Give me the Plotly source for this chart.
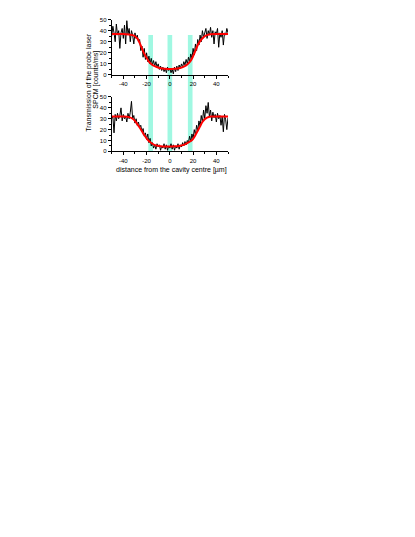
import plotly.graph_objects as go

# page body has an 8px margin; figure is sized so that it fits the 415x537 window
OFF = 8
W, H = 415 - 2 * OFF, 537 - 2 * OFF

x_data = list(range(-50, 51))
top_counts = [35, 44, 38, 30, 46, 36, 40, 24, 38, 42, 33, 45, 28, 49, 37, 42, 30, 40, 36, 28,
              38, 33, 36, 30, 32, 22, 26, 16, 24, 14, 20, 12, 17, 10, 15, 9, 13, 8, 12, 7,
              10, 5, 8, 4, 7, 3, 6, 2, 7, 4, 6, 2, 5, 1, 7, 3, 8, 4, 9, 6,
              10, 7, 12, 9, 14, 10, 16, 12, 19, 15, 24, 18, 28, 22, 32, 27, 36, 30, 40, 34,
              38, 42, 33, 40, 36, 43, 34, 40, 28, 39, 37, 42, 25, 38, 34, 40, 27, 38, 36, 42, 38]
bottom_counts = [30, 32, 17, 34, 28, 35, 30, 33, 40, 28, 34, 30, 32, 27, 35, 30, 36, 46, 30, 33,
                 26, 30, 24, 27, 22, 24, 18, 21, 14, 17, 11, 16, 8, 12, 5, 8, 3, 6, 2, 7,
                 4, 6, 1, 5, 3, 7, 2, 6, 1, 5, 3, 7, 2, 6, 1, 5, 3, 7, 2, 6,
                 4, 8, 5, 9, 6, 10, 8, 14, 9, 16, 12, 20, 15, 24, 19, 28, 23, 33, 27, 38,
                 30, 42, 35, 45, 32, 38, 28, 36, 31, 34, 27, 35, 30, 33, 24, 32, 18, 34, 29, 20, 31]

x_fit = [-50, -45, -40, -35, -32, -30, -28, -26, -24, -22, -20, -18, -15, -12, -8, -4, 0,
         4, 8, 12, 15, 18, 20, 22, 24, 26, 28, 30, 32, 35, 40, 45, 50]
top_fit = [37, 37, 37, 36.5, 36, 35, 33, 29, 24, 19, 15.5, 12, 9, 7.5, 6, 5.5, 5.3,
           5.5, 6, 7.5, 9.5, 13, 17, 22, 27, 30.5, 33, 35, 36, 36.8, 37, 37, 37]
bottom_fit = [32, 32, 32, 31.5, 30, 28, 25, 22, 18.5, 15, 12, 9.5, 7, 5.5, 4.8, 4.5, 4.4,
              4.6, 5, 6, 7.5, 9.5, 11.5, 15, 19, 23, 27, 29.5, 31, 32, 32, 32, 32]

band_centres = [-16.5, 0, 17.5]
band_width = 4
band_top = 36

x_ticks = [-40, -20, 0, 20, 40]
x_labels = ["-40", "-20", "0", "20", "40"]
y_ticks = [0, 10, 20, 30, 40, 50]


def px(xr):
    return (xr - OFF) / W


def py(yr):
    return 1 - (yr - OFF) / H


xdom = [px(111.7), px(228)]
top_dom = [py(72.7), py(16.7)]
bot_dom = [py(150), py(95)]

font = "Liberation Sans, Arial, sans-serif"

fig = go.Figure()
fig.add_trace(go.Scatter(x=x_data, y=top_counts, mode="lines", line=dict(color="black", width=1),
                         xaxis="x", yaxis="y", showlegend=False))
fig.add_trace(go.Scatter(x=x_fit, y=top_fit, mode="lines", line=dict(color="red", width=2, shape="spline"),
                         xaxis="x", yaxis="y", showlegend=False))
fig.add_trace(go.Scatter(x=x_data, y=bottom_counts, mode="lines", line=dict(color="black", width=1),
                         xaxis="x2", yaxis="y2", showlegend=False))
fig.add_trace(go.Scatter(x=x_fit, y=bottom_fit, mode="lines", line=dict(color="red", width=2, shape="spline"),
                         xaxis="x2", yaxis="y2", showlegend=False))

band_y1 = top_dom[0] + band_top / 50 * (top_dom[1] - top_dom[0])
for c in band_centres:
    fig.add_shape(type="rect", xref="x", yref="paper", x0=c - band_width / 2, x1=c + band_width / 2,
                  y0=bot_dom[0], y1=band_y1, fillcolor="#a0f8e2", line=dict(width=0), layer="below")

axis_common = dict(showline=True, linecolor="black", linewidth=1, ticks="outside", ticklen=3,
                   tickwidth=1, tickcolor="black", showgrid=False, zeroline=False,
                   tickfont=dict(family=font, size=6, color="black"),
                   minor=dict(ticks="outside", ticklen=2, tickcolor="black", tickwidth=1))

fig.update_layout(
    width=W, height=H, margin=dict(l=0, r=0, t=0, b=0),
    paper_bgcolor="white", plot_bgcolor="rgba(0,0,0,0)",
    xaxis=dict(domain=xdom, range=[-50, 50], tickvals=x_ticks, ticktext=x_labels, anchor="y", **axis_common),
    yaxis=dict(domain=top_dom, range=[0, 50], tickvals=y_ticks, anchor="x", **axis_common),
    xaxis2=dict(domain=xdom, range=[-50, 50], tickvals=x_ticks, ticktext=x_labels, anchor="y2", matches="x",
                **axis_common),
    yaxis2=dict(domain=bot_dom, range=[0, 50], tickvals=y_ticks, anchor="x2", **axis_common),
)
fig.update_xaxes(minor=dict(dtick=10, tick0=0))
fig.update_yaxes(minor=dict(dtick=5, tick0=0))

fig.add_annotation(text="Transmission of the probe laser", xref="paper", yref="paper",
                   x=px(89), y=py(80.5), textangle=-90, showarrow=False,
                   font=dict(family=font, size=7, color="black"), xanchor="center", yanchor="middle")
fig.add_annotation(text="SPCM [counts/ms]", xref="paper", yref="paper",
                   x=px(96.5), y=py(78), textangle=-90, showarrow=False,
                   font=dict(family=font, size=7, color="black"), xanchor="center", yanchor="middle")
fig.add_annotation(text="distance from the cavity centre [µm]", xref="paper", yref="paper",
                   x=px(171), y=py(169), showarrow=False,
                   font=dict(family=font, size=7, color="black"), xanchor="center", yanchor="middle")

fig.write_html("out.html")
